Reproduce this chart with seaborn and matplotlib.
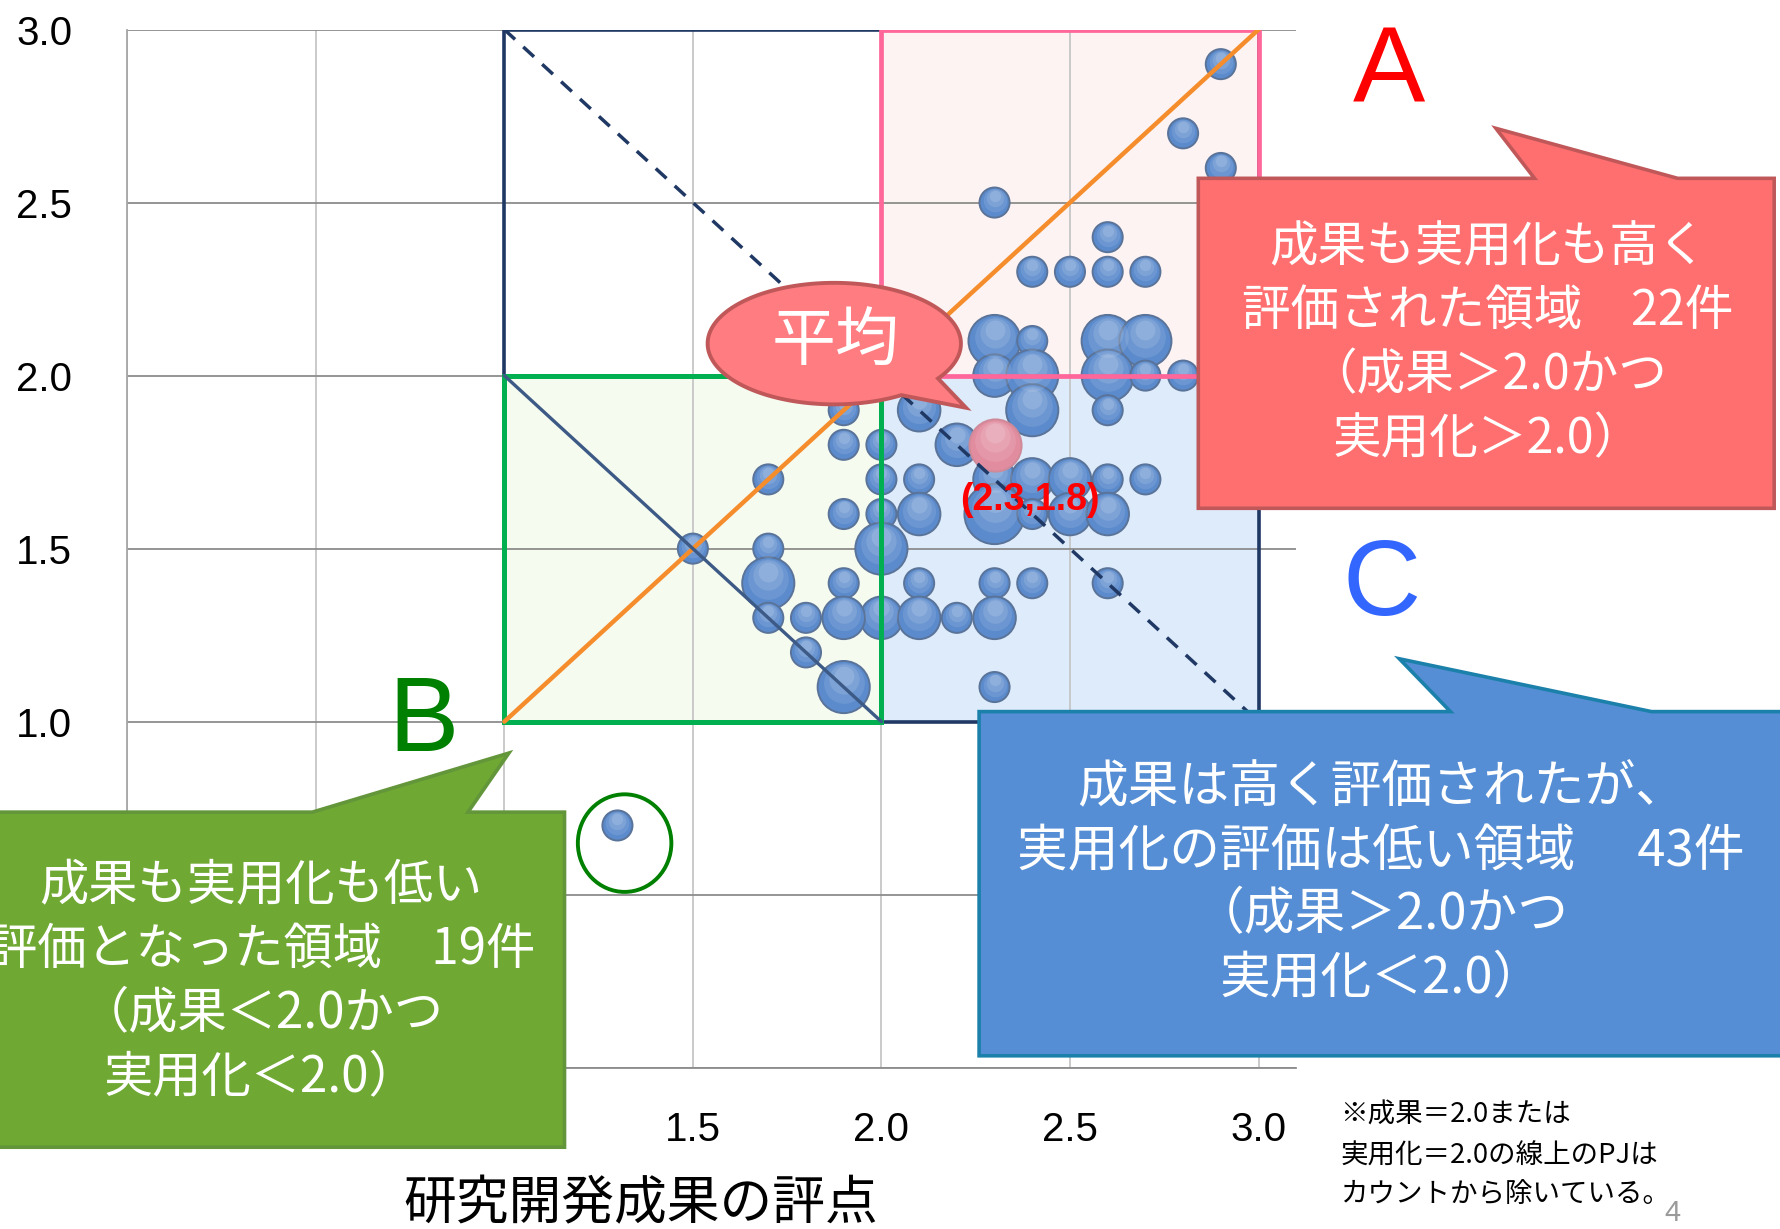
import numpy as np
import pandas as pd
import matplotlib
matplotlib.use("Agg")
import matplotlib.pyplot as plt
import seaborn as sns
from matplotlib.patches import Rectangle, Polygon, Ellipse
from matplotlib.transforms import ScaledTranslation

# ---------------- data ----------------
seika = [2.9, 2.8, 2.9, 2.3, 2.6,
         2.4, 2.5, 2.6, 2.7,
         2.3, 2.4, 2.6, 2.7,
         2.3, 2.4, 2.6, 2.7, 2.8,
         2.1, 2.4, 2.6,
         2.0, 2.2,
         2.0, 2.1, 2.3, 2.4, 2.5, 2.6, 2.7,
         2.0, 2.1, 2.3, 2.4, 2.5, 2.6,
         2.0,
         2.1, 2.3, 2.4, 2.6,
         2.0, 2.1, 2.2, 2.3,
         2.3,
         1.9, 1.9, 1.7, 1.9, 1.5, 1.7, 1.7, 1.9, 1.7, 1.8, 1.9, 1.8, 1.9, 1.3]
jitsuyo = [2.9, 2.7, 2.6, 2.5, 2.4,
           2.3, 2.3, 2.3, 2.3,
           2.1, 2.1, 2.1, 2.1,
           2.0, 2.0, 2.0, 2.0, 2.0,
           1.9, 1.9, 1.9,
           1.8, 1.8,
           1.7, 1.7, 1.7, 1.7, 1.7, 1.7, 1.7,
           1.6, 1.6, 1.6, 1.6, 1.6, 1.6,
           1.5,
           1.4, 1.4, 1.4, 1.4,
           1.3, 1.3, 1.3, 1.3,
           1.1,
           1.9, 1.8, 1.7, 1.6, 1.5, 1.5, 1.4, 1.4, 1.3, 1.3, 1.3, 1.2, 1.1, 0.7]
counts = [1, 1, 1, 1, 1,
          1, 1, 1, 1,
          3, 1, 3, 3,
          2, 3, 3, 1, 1,
          2, 3, 1,
          1, 2,
          1, 1, 2, 2, 2, 1, 1,
          1, 2, 4, 1, 2, 2,
          3,
          1, 1, 1, 1,
          2, 2, 1, 2,
          1,
          1, 1, 1, 1, 1, 1, 3, 1, 1, 1, 2, 1, 3, 1]

mean_seika = [2.3]
mean_jitsuyo = [1.8]
mean_label = "(2.3,1.8)"

tick_values = [0.0, 0.5, 1.0, 1.5, 2.0, 2.5, 3.0]
tick_labels = ["0.0", "0.5", "1.0", "1.5", "2.0", "2.5", "3.0"]
x_label = "研究開発成果の評点"

text_A = ["成果も実用化も高く", "評価された領域　22件", "（成果＞2.0かつ", "実用化＞2.0）"]
text_B = ["成果も実用化も低い", "評価となった領域　19件", "（成果＜2.0かつ", "実用化＜2.0）"]
text_C = ["成果は高く評価されたが、", "実用化の評価は低い領域　 43件", "（成果＞2.0かつ", "実用化＜2.0）"]
note_lines = ["※成果＝2.0または", "実用化＝2.0の線上のPJは", "カウントから除いている。"]

df = pd.DataFrame({"seika": seika, "jitsuyo": jitsuyo, "count": counts})

# ---------------- style ----------------
sns.set_style("white")
plt.rcParams["font.family"] = ["Noto Sans CJK JP", "DejaVu Sans"]
lat = ["Liberation Sans", "DejaVu Sans"]

W, H = 1781, 1229
fig = plt.figure(figsize=(W / 100, H / 100), dpi=100)
fig.patch.set_facecolor("white")

def F(X, Y):
    return (X / 1568.0, 1.0 - Y / 1082.0)

ax = fig.add_axes([112 / 1568, 1 - 940 / 1082, 1029.2 / 1568, 914 / 1082])
ax.set_xlim(0, 3.1)
ax.set_ylim(0, 3.0)
ax.set_facecolor("white")
ax.set_axisbelow(True)

# zone fills
ax.add_patch(Rectangle((1, 1), 1, 1, facecolor="#f6fbf0", edgecolor="none", zorder=0.2))
ax.add_patch(Rectangle((2, 2), 1, 1, facecolor="#fdf3f2", edgecolor="none", zorder=0.2))
ax.add_patch(Rectangle((2, 1), 1, 1, facecolor="#ddebfa", edgecolor="none", zorder=0.2))

# grid / ticks
ax.set_xticks(tick_values)
ax.set_yticks(tick_values)
ax.set_xticklabels(tick_labels)
ax.set_yticklabels(tick_labels)
ax.grid(axis="y", color="#8c8c8c", linewidth=1.3)
ax.grid(axis="x", color="#c6c6c6", linewidth=1.3)
for s in ["top", "right"]:
    ax.spines[s].set_visible(False)
ax.spines["left"].set_color("#a6a6a6")
ax.spines["bottom"].set_color("#8c8c8c")
ax.spines["left"].set_linewidth(1.3)
ax.spines["bottom"].set_linewidth(1.3)
ax.tick_params(axis="both", direction="out", length=10.5, width=1.2, color="#8c8c8c",
               labelsize=29, labelcolor="black")
ax.tick_params(axis="y", pad=29)
ax.tick_params(axis="x", pad=21)
for lab in ax.get_xticklabels() + ax.get_yticklabels():
    lab.set_fontfamily(lat)
# labels that sit behind the green callout are hidden in the reference
for lab in ax.get_xticklabels()[:3] + ax.get_yticklabels()[:2]:
    lab.set_visible(False)

# bubbles
base_s = 470.0
sns.scatterplot(data=df, x="seika", y="jitsuyo", size="count", sizes=(base_s, 4 * base_s),
                size_norm=(1, 4), color="#5b8bcc", edgecolor="#5a7399", linewidth=1.4,
                legend=False, ax=ax, zorder=3)
# soft top highlight for the glossy look
for lvl in sorted(set(counts)):
    sub = df[df["count"] == lvl]
    D = np.sqrt(base_s * lvl)
    for frac, off, al in [(0.78, 0.08, 0.10), (0.58, 0.15, 0.12), (0.38, 0.22, 0.14)]:
        tr = ax.transData + ScaledTranslation(0, off * D / 72.0, fig.dpi_scale_trans)
        sns.scatterplot(data=sub, x="seika", y="jitsuyo", s=(frac * D) ** 2, color="white",
                        alpha=al, linewidth=0, legend=False, ax=ax, zorder=3.1, transform=tr)

sns.scatterplot(x=mean_seika, y=mean_jitsuyo, s=3 * base_s, color="#e28c9f",
                edgecolor="#cf8a99", linewidth=1.4, legend=False, ax=ax, zorder=3.5)
Dm = np.sqrt(3 * base_s)
for frac, off, al in [(0.78, 0.08, 0.10), (0.58, 0.15, 0.12), (0.38, 0.22, 0.14)]:
    tr = ax.transData + ScaledTranslation(0, off * Dm / 72.0, fig.dpi_scale_trans)
    sns.scatterplot(x=mean_seika, y=mean_jitsuyo, s=(frac * Dm) ** 2, color="white",
                    alpha=al, linewidth=0, legend=False, ax=ax, zorder=3.6, transform=tr)

# zone outlines and guide lines
ax.add_patch(Rectangle((1, 1), 2, 2, facecolor="none", edgecolor="#1f3864", linewidth=2.6, zorder=4))
ax.add_patch(Rectangle((1, 1), 1, 1, facecolor="none", edgecolor="#00b050", linewidth=3.6, zorder=4.2))
ax.add_patch(Rectangle((2, 2), 1, 1, facecolor="none", edgecolor="#ff6699", linewidth=3.4, zorder=4.2))
ax.plot([1, 3], [1, 3], color="#f58d2c", linewidth=3.2, zorder=4.3)
ax.plot([1, 3], [3, 1], color="#1f3864", linewidth=2.5, linestyle=(0, (4.2, 3.2)), zorder=4.3)
ax.plot([1, 2], [2, 1], color="#3c5a85", linewidth=2.4, zorder=4.3)
ax.add_patch(Ellipse((1.319, 0.649), 0.248, 0.282, facecolor="none", edgecolor="#008000",
                     linewidth=2.8, zorder=4.4))

ax.text(2.395, 1.64, mean_label, color="#ff0000", fontsize=27, fontweight="bold",
        ha="center", va="center", zorder=6, family=lat)

ax.set_xlabel(x_label, fontsize=38, color="black")
ax.xaxis.set_label_coords(0.4393, -0.131)
ax.xaxis.label.set_va("center")
ax.set_ylabel("")

# ---------------- callouts (figure space) ----------------
def add_poly(pts, fc, ec, lw=2.6, z=8):
    poly = Polygon([F(*p) for p in pts], closed=True, facecolor=fc, edgecolor=ec,
                   linewidth=lw, transform=fig.transFigure, zorder=z, clip_on=False,
                   joinstyle="miter")
    fig.add_artist(poly)

add_poly([(1055, 157), (1351, 157), (1317, 113), (1477, 157), (1562, 157),
          (1562, 447.5), (1055, 447.5)], "#ff6f6f", "#c0585a")
add_poly([(862, 626.5), (1277, 626.5), (1232, 580), (1454, 626.5), (1580, 626.5),
          (1580, 929.5), (862, 929.5)], "#558ed5", "#1b80aa")
add_poly([(-10, 715), (275, 715), (448, 663), (412, 715), (497, 715),
          (497, 1010), (-10, 1010)], "#6fa832", "#63963a")

cx, cy, ea, eb = 734.5, 302.5, 111.5, 53.5
th = np.linspace(np.deg2rad(58), np.deg2rad(35 + 360), 240)
pts = [(cx + ea * np.cos(t), cy + eb * np.sin(t)) for t in th]
pts.append((850.5, 359))
add_poly(pts, "#ff7c80", "#c0585a", lw=2.8, z=8)

def ftext(X, Y, s, **kw):
    fx, fy = F(X, Y)
    fig.text(fx, fy, s, zorder=9, **kw)

for s, yy in zip(text_A, [218, 275, 331, 387]):
    ftext(1310, yy, s, color="white", fontsize=35, ha="center", va="center")
for s, yy in zip(text_C, [694, 750, 806, 862]):
    ftext(1216, yy, s, color="white", fontsize=36.5, ha="center", va="center")
for s, yy in zip(text_B, [780, 836, 892, 948]):
    ftext(230, yy, s, color="white", fontsize=35.5, ha="center", va="center")

ftext(736, 302, "平均", color="white", fontsize=46, ha="center", va="center")

ftext(1223, 66, "A", color="#ff0000", fontsize=78, ha="center", va="center", family=lat)
ftext(373, 637, "B", color="#008000", fontsize=76, ha="center", va="center", family=lat)
ftext(1216, 517, "C", color="#3366ff", fontsize=78, ha="center", va="center", family=lat)

for s, yy in zip(note_lines, [982, 1018, 1052]):
    ftext(1180, yy, s, color="black", fontsize=19.8, ha="left", va="center")
ftext(1472, 1068, "4", color="#9a9a9a", fontsize=21, ha="center", va="center", family=lat)

fig.savefig("out.png", dpi=100)
